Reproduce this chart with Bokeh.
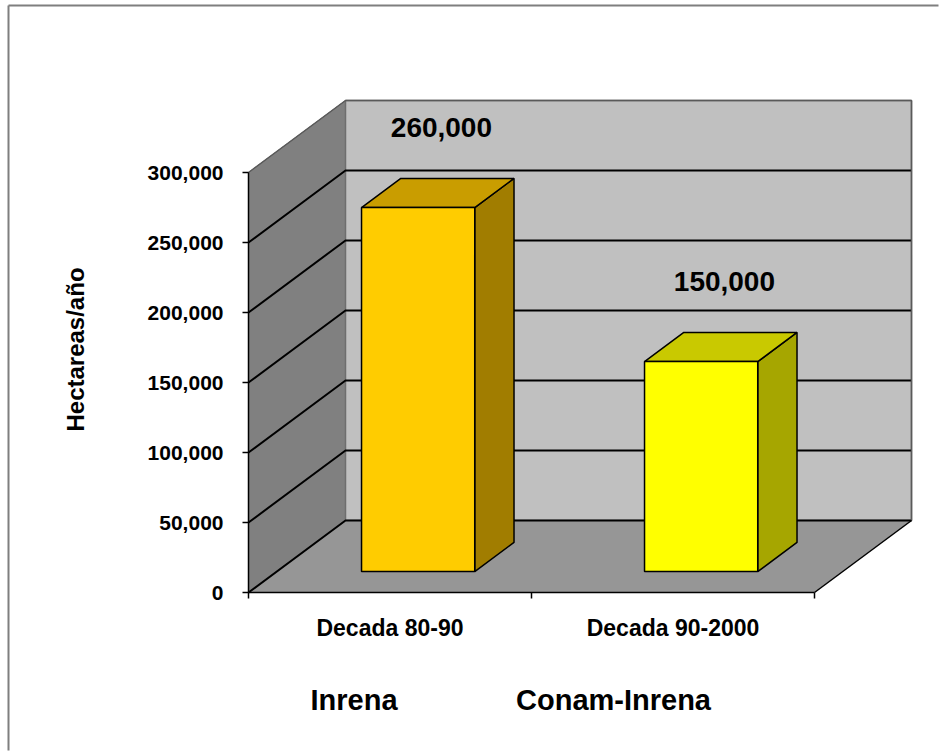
import math
from bokeh.plotting import figure
from bokeh.models import Range1d, FixedTicker, NumeralTickFormatter, ColumnDataSource
from bokeh.embed import file_html
from bokeh.resources import INLINE
from bokeh.core.properties import value

# ---------------- data ----------------
categories = ["Decada 80-90", "Decada 90-2000"]
hectares = [260000, 150000]
sources = ["Inrena", "Conam-Inrena"]
y_ticks = [0, 50000, 100000, 150000, 200000, 250000, 300000]
y_title = "Hectareas/año"
front_colors = ["#FFCC00", "#FFFF00"]
top_colors = ["#C99D00", "#C9C900"]
side_colors = ["#A17D00", "#A6A600"]

# ---------------- layout constants (pixels) ----------------
W, H = 939, 751
AXIS_X_PX, AXIS_Y_PX = 248.0, 592.0      # where the front axes cross
PX_PER_CAT = 283.0
PX_PER_VAL = 70.0 / 50000.0
YMAX = y_ticks[-1]
N = len(categories)
DX = 97.0 / PX_PER_CAT          # depth offset in x units
DY = 72.0 / PX_PER_VAL          # depth offset in value units
BAR_HALF = 0.2
F0, F1 = 0.29, 0.695            # bar front/back depth fractions
FONT = "Liberation Sans"


def px_x(px):
    return (px - AXIS_X_PX) / PX_PER_CAT


def px_y(py):
    return (AXIS_Y_PX - py) / PX_PER_VAL


p = figure(width=W, height=H,
           x_range=Range1d(px_x(0), px_x(W)),
           y_range=Range1d(px_y(H), px_y(0)),
           output_backend="svg", toolbar_location=None,
           min_border=0)
p.grid.visible = False
p.outline_line_color = None
p.background_fill_color = "white"
p.border_fill_color = "white"

# slide frame (top and left edges)
p.segment(x0=[px_x(8), px_x(8)], y0=[px_y(H - 1), px_y(5)],
          x1=[px_x(8), px_x(W - 1)], y1=[px_y(5), px_y(5)],
          line_color="#7F7F7F", line_width=2)

# ---------------- walls and floor ----------------
p.patch([0, 0, DX, DX], [0, YMAX, YMAX + DY, DY],
        fill_color="#808080", line_color="#6E6E6E", line_width=1)
p.patch([DX, N + DX, N + DX, DX], [DY, DY, YMAX + DY, YMAX + DY],
        fill_color="#C0C0C0", line_color="#6E6E6E", line_width=1.5)
p.patch([0, N, N + DX, DX], [0, 0, DY, DY],
        fill_color="#969696", line_color=None)

# gridlines on the walls
gx, gy = [], []
for t in y_ticks[:-1]:
    gx.append([0, DX, N + DX])
    gy.append([t, t + DY, t + DY])
p.multi_line(gx, gy, line_color="black", line_width=2)
# wall edges
p.multi_line([[0, DX, N + DX, N + DX], [N, N + DX]],
             [[YMAX, YMAX + DY, YMAX + DY, DY], [0, DY]],
             line_color=["#5A5A5A", "black"], line_width=[1.5, 1.5])

# ---------------- 3D bars ----------------
fx, fy, tx, ty, sx, sy = [], [], [], [], [], []
ddx, ddy = (F1 - F0) * DX, (F1 - F0) * DY
for i, v in enumerate(hectares):
    cx = i + 0.5
    x0 = cx - BAR_HALF + F0 * DX
    x1 = cx + BAR_HALF + F0 * DX
    y0 = F0 * DY
    y1 = v + F0 * DY
    fx.append([x0, x1, x1, x0]); fy.append([y0, y0, y1, y1])
    tx.append([x0, x1, x1 + ddx, x0 + ddx]); ty.append([y1, y1, y1 + ddy, y1 + ddy])
    sx.append([x1, x1 + ddx, x1 + ddx, x1]); sy.append([y0, y0 + ddy, y1 + ddy, y1])

p.patches(sx, sy, fill_color=side_colors, line_color="black", line_width=1.5)
p.patches(tx, ty, fill_color=top_colors, line_color="black", line_width=1.5)
p.patches(fx, fy, fill_color=front_colors, line_color="black", line_width=1.5)

# value labels
lab = ColumnDataSource(dict(
    x=[i + 0.5 + 0.53 * DX for i in range(N)],
    y=[v + 0.5 * DY for v in hectares],
    t=[f"{v:,}" for v in hectares]))
p.text(x="x", y="y", text="t", source=lab, y_offset=-65,
       text_align="center", text_baseline="middle",
       text_font=value(FONT), text_font_style="bold",
       text_font_size="28px", text_color="black")

# ---------------- axes (fixed at the front corner) ----------------
ya = p.yaxis[0]
ya.fixed_location = 0
ya.ticker = FixedTicker(ticks=y_ticks)
ya.formatter = NumeralTickFormatter(format="0,0")
ya.bounds = (0, YMAX)
ya.major_tick_out = 6
ya.major_tick_in = 0
ya.minor_tick_out = 0
ya.minor_tick_in = 0
ya.axis_line_color = "black"
ya.axis_line_width = 1.5
ya.major_tick_line_color = "black"
ya.major_tick_line_width = 1.5
ya.major_label_text_font = FONT
ya.major_label_text_font_style = "bold"
ya.major_label_text_font_size = "21px"
ya.major_label_text_color = "black"
ya.major_label_standoff = 19

xa = p.xaxis[0]
xa.fixed_location = 0
xa.ticker = FixedTicker(ticks=[i + 0.5 for i in range(N)],
                        minor_ticks=list(range(N + 1)))
xa.major_label_overrides = {i + 0.5: c for i, c in enumerate(categories)}
xa.bounds = (0, N)
xa.major_tick_out = 0
xa.major_tick_in = 0
xa.minor_tick_out = 6
xa.minor_tick_in = 0
xa.minor_tick_line_color = "black"
xa.minor_tick_line_width = 1.5
xa.axis_line_color = "black"
xa.axis_line_width = 1.5
xa.major_label_text_font = FONT
xa.major_label_text_font_style = "bold"
xa.major_label_text_font_size = "23px"
xa.major_label_text_color = "black"
xa.major_label_standoff = 16

# y-axis title
p.text(x=[px_x(75)], y=[px_y(349)], text=[y_title], angle=math.pi / 2,
       text_align="center", text_baseline="middle",
       text_font=value(FONT), text_font_style="bold",
       text_font_size="24px", text_color="black")

# source labels under the chart
SRC_PX = [353.5, 613.0]
p.text(x=[px_x(v) for v in SRC_PX], y=[px_y(699)] * N, text=sources,
       text_align="center", text_baseline="middle",
       text_font=value(FONT), text_font_style="bold",
       text_font_size="29px", text_color="black")

open("out.html", "w").write(file_html(p, INLINE))
